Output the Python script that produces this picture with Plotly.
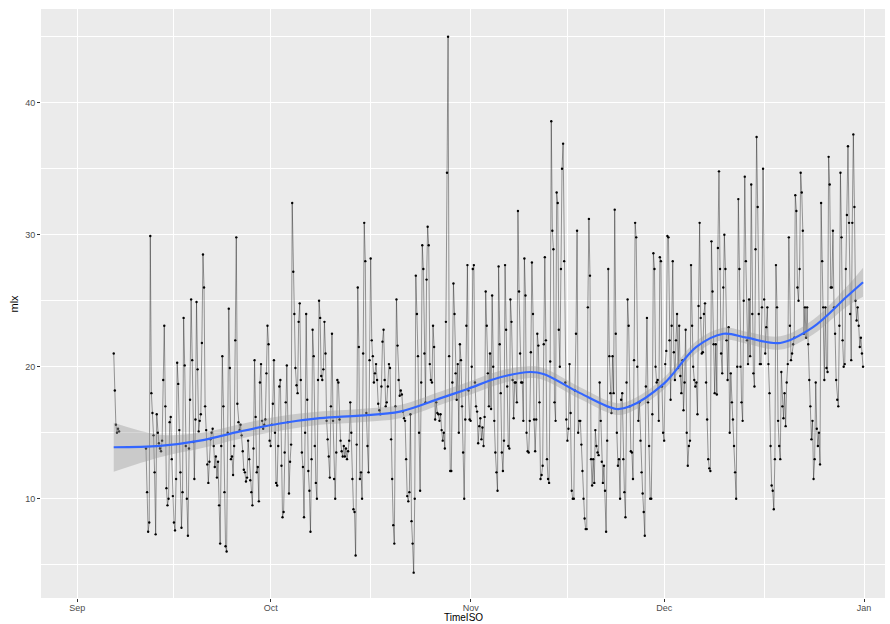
import pandas as pd
import plotly.graph_objects as go

# mlx readings, six per day (every 4 hours from 00:00), Sep 6 to Dec 31
first_day = "2016-09-06"
readings = [
    [None, None, None, None, 21.0, 18.2],   # Sep 6
    [15.6, 15.0, 15.3, 15.1, None, None],   # Sep 7
    [None, None, None, None, None, None],   # Sep 8
    [None, None, None, None, None, None],   # Sep 9
    [None, None, None, None, None, None],   # Sep 10
    [None, None, None, None, 13.8, 10.5],   # Sep 11
    [7.5, 8.2, 29.9, 18.0, 16.5, 14.8],
    [12.0, 7.3, 16.4, 15.0, 14.2, 13.8],
    [13.6, 14.4, 19.0, 23.1, 17.0, 10.8],
    [9.5, 10.0, 15.8, 16.2, 13.0, 10.2],    # Sep 15
    [8.2, 7.6, 11.5, 20.3, 18.7, 15.2],
    [12.0, 7.8, 10.5, 23.7, 20.1, 14.0],
    [10.0, 7.2, 13.8, 17.5, 25.1, 20.5],
    [14.3, 11.5, 16.0, 24.9, 19.8, 15.1],
    [15.9, 16.4, 21.8, 28.5, 26.0, 17.0],   # Sep 20
    [15.2, 12.6, 11.2, 12.8, 14.5, 15.0],
    [15.3, 14.0, 12.4, 13.2, 11.6, 12.8],
    [9.5, 6.6, 14.0, 20.8, 17.0, 10.5],
    [6.4, 6.0, 15.0, 24.4, 19.9, 13.0],
    [13.2, 11.8, 14.0, 22.0, 29.8, 17.2],   # Sep 25
    [15.8, 15.2, 15.6, 14.8, 13.6, 12.2],
    [12.0, 11.3, 11.6, 14.4, 13.0, 11.4],
    [10.5, 9.5, 13.8, 20.5, 16.2, 12.0],
    [12.4, 9.8, 18.8, 20.2, 15.9, 15.3],
    [15.6, 16.0, 19.5, 23.1, 21.7, 14.4],   # Sep 30
    [14.0, 15.6, 17.2, 20.5, 15.0, 11.2],   # Oct 1
    [11.0, 14.0, 18.5, 19.0, 12.5, 8.6],
    [9.0, 13.5, 17.3, 20.1, 15.8, 10.4],
    [12.8, 14.1, 32.4, 27.2, 24.0, 19.9],
    [18.6, 18.0, 23.4, 24.8, 19.0, 13.5],   # Oct 5
    [12.4, 8.6, 15.0, 24.0, 17.5, 12.1],
    [10.6, 7.5, 13.0, 22.8, 20.8, 14.0],
    [11.2, 10.0, 19.0, 25.0, 23.7, 19.3],
    [19.0, 19.8, 23.4, 21.0, 15.9, 14.5],
    [13.2, 11.6, 17.0, 22.5, 15.9, 11.5],   # Oct 10
    [10.0, 13.5, 19.0, 18.8, 16.0, 14.4],
    [13.6, 13.2, 14.0, 13.2, 13.8, 13.0],
    [13.6, 14.4, 17.3, 15.0, 11.5, 9.2],
    [9.0, 5.7, 14.1, 26.0, 21.5, 11.5],
    [12.0, 10.0, 21.0, 30.9, 28.0, 16.5],   # Oct 15
    [14.0, 12.0, 20.5, 28.2, 22.0, 20.8],
    [18.8, 19.5, 20.2, 19.0, 17.2, 16.7],
    [16.4, 18.5, 21.9, 22.8, 19.0, 17.0],
    [17.3, 18.5, 20.2, 19.9, 14.5, 11.5],
    [8.0, 6.6, 17.0, 25.1, 21.6, 19.0],     # Oct 20
    [17.8, 18.2, 17.9, 16.6, 16.1, 15.9],
    [13.0, 10.2, 9.8, 10.5, 16.4, 8.3],
    [6.6, 4.4, 10.0, 26.9, 24.0, 20.8],
    [15.0, 10.6, 18.8, 29.2, 27.4, 21.0],
    [17.3, 26.6, 30.6, 29.2, 20.2, 19.0],   # Oct 25
    [18.8, 23.1, 21.5, 16.0, 17.3, 16.5],
    [16.4, 15.9, 16.4, 15.2, 14.4, 15.0],
    [13.8, 23.4, 34.7, 45.0, 20.8, 12.1],
    [12.1, 18.8, 26.3, 24.0, 19.5, 17.5],
    [20.2, 15.0, 21.7, 20.5, 17.0, 13.5],   # Oct 30
    [10.0, 16.0, 23.1, 27.7, 18.2, 16.0],
    [15.9, 20.0, 27.4, 27.7, 18.8, 17.0],   # Nov 1
    [16.6, 14.2, 15.5, 16.1, 14.5, 15.4],
    [14.0, 16.2, 25.7, 23.1, 19.5, 17.0],
    [21.0, 16.8, 25.4, 20.0, 15.9, 13.5],
    [12.0, 10.6, 27.6, 21.7, 18.0, 13.5],   # Nov 5
    [12.1, 14.4, 27.7, 22.8, 18.5, 14.0],
    [13.8, 25.1, 23.4, 19.0, 16.1, 18.8],
    [18.8, 17.3, 31.8, 25.7, 21.0, 18.8],
    [18.8, 15.9, 28.2, 25.4, 15.0, 13.6],
    [13.5, 15.9, 21.1, 27.9, 24.0, 16.0],   # Nov 10
    [13.6, 16.0, 22.5, 21.6, 17.3, 11.5],
    [11.8, 12.5, 21.7, 28.3, 22.0, 13.0],
    [11.5, 11.2, 20.4, 38.6, 30.3, 28.9],
    [17.3, 15.9, 33.2, 32.4, 22.8, 20.0],
    [27.4, 35.0, 36.9, 28.0, 18.8, 16.0],   # Nov 15
    [14.4, 15.3, 20.2, 16.5, 10.6, 10.0],
    [10.0, 18.2, 22.5, 30.3, 15.0, 15.9],
    [15.9, 14.1, 12.1, 10.0, 8.5, 7.7],
    [7.7, 24.5, 31.2, 26.9, 13.0, 11.0],
    [13.0, 11.2, 15.2, 14.0, 13.5, 13.3],   # Nov 20
    [18.8, 15.9, 12.8, 11.2, 12.5, 10.6],
    [7.5, 14.4, 27.4, 20.8, 18.0, 16.5],
    [20.8, 18.0, 31.9, 22.5, 15.0, 12.5],
    [13.0, 10.0, 17.5, 18.0, 13.0, 10.5],
    [8.6, 18.8, 25.1, 23.1, 17.0, 13.6],    # Nov 25
    [13.5, 11.5, 20.5, 30.9, 29.8, 20.0],
    [15.9, 17.3, 14.4, 12.0, 10.4, 9.0],
    [7.2, 18.5, 23.7, 17.3, 14.0, 10.0],
    [10.0, 16.4, 28.6, 27.4, 20.0, 18.8],
    [19.0, 15.9, 28.3, 28.0, 18.5, 15.0],   # Nov 30
    [14.4, 20.2, 21.2, 29.9, 29.8, 22.0],   # Dec 1
    [17.5, 23.1, 28.0, 21.1, 19.0, 22.0],
    [24.0, 19.9, 23.1, 19.3, 18.0, 20.5],
    [16.7, 18.8, 22.8, 15.0, 12.5, 14.0],
    [14.4, 27.7, 23.1, 20.0, 19.0, 18.5],   # Dec 5
    [18.8, 16.4, 24.6, 30.9, 23.7, 21.0],
    [21.1, 24.0, 24.8, 18.8, 16.0, 13.0],
    [12.3, 12.1, 29.5, 25.7, 21.7, 18.0],
    [21.7, 17.9, 29.0, 34.8, 27.4, 21.0],
    [19.5, 26.0, 30.0, 27.4, 22.0, 19.0],   # Dec 10
    [23.0, 15.0, 19.5, 17.3, 16.0, 14.0],
    [12.0, 10.0, 20.0, 32.7, 27.4, 20.0],
    [17.3, 15.9, 25.0, 34.4, 28.0, 22.0],
    [20.2, 25.1, 20.8, 33.8, 24.0, 19.5],
    [18.5, 28.9, 37.4, 32.1, 24.0, 20.2],   # Dec 15
    [20.2, 24.5, 35.0, 25.1, 21.0, 23.0],
    [24.5, 20.2, 18.0, 14.0, 11.0, 10.6],
    [9.2, 13.0, 27.7, 24.5, 15.9, 14.0],
    [13.0, 19.6, 17.0, 16.1, 18.0, 15.5],
    [18.8, 20.2, 29.8, 23.1, 20.5, 21.0],   # Dec 20
    [21.7, 22.2, 33.0, 31.8, 26.0, 25.0],
    [27.4, 34.7, 33.2, 30.3, 22.5, 24.5],
    [22.2, 24.5, 21.7, 19.0, 17.0, 14.5],
    [15.9, 11.5, 13.0, 18.8, 15.3, 14.0],
    [15.0, 12.6, 32.4, 28.0, 24.5, 19.0],   # Dec 25
    [24.5, 19.9, 19.6, 35.9, 33.8, 26.0],
    [26.0, 30.3, 24.5, 22.5, 19.0, 17.5],
    [17.0, 23.1, 34.7, 29.8, 22.0, 20.0],
    [20.2, 27.4, 31.5, 36.7, 30.9, 24.0],
    [20.5, 30.9, 37.6, 32.1, 25.0, 23.5],   # Dec 30
    [24.5, 23.1, 21.5, 22.2, 21.0, 20.0],   # Dec 31
]

# smoothed trend (loess fit) and its standard-error half width
smooth_time = [
    "2016-09-06 16:00", "2016-09-13 20:00", "2016-09-20 01:00", "2016-09-26 06:00",
    "2016-10-02 10:00", "2016-10-08 15:00", "2016-10-14 20:00", "2016-10-21 01:00",
    "2016-10-27 06:00", "2016-10-31 10:00", "2016-11-05 14:00",
    "2016-11-10 05:00", "2016-11-12 07:00", "2016-11-17 23:00", "2016-11-23 14:00",
    "2016-11-25 17:00", "2016-11-30 22:00", "2016-12-06 00:00", "2016-12-10 05:00",
    "2016-12-13 19:00", "2016-12-19 00:00", "2016-12-24 02:00", "2016-12-29 07:00",
    "2016-12-31 20:00",
]
smooth_fit = [13.9, 14.0, 14.4, 15.1, 15.7, 16.1, 16.3, 16.6, 17.6, 18.3, 19.2,
              19.6, 19.45, 18.0, 16.8, 17.0, 18.7, 21.5, 22.5, 22.2, 21.8, 23.0, 25.3,
              26.4]
smooth_se = [1.85, 0.85, 0.6, 0.55, 0.55, 0.5, 0.5, 0.5, 0.5, 0.5, 0.5,
             0.45, 0.45, 0.45, 0.45, 0.45, 0.45, 0.45, 0.45, 0.45, 0.5, 0.55, 0.75,
             1.1]

month_ticks = ["2016-09-01", "2016-10-01", "2016-11-01", "2016-12-01", "2017-01-01"]
month_labels = ["Sep", "Oct", "Nov", "Dec", "Jan"]
mid_month_ticks = ["2016-09-16 00:00", "2016-10-16 12:00", "2016-11-16 00:00", "2016-12-16 12:00"]
y_ticks = [10, 20, 30, 40]
y_minor = [5, 15, 25, 35, 45]

# flatten day rows into a timestamped series
start = pd.Timestamp(first_day)
times, values = [], []
for i, day in enumerate(readings):
    for k, v in enumerate(day):
        times.append(start + pd.Timedelta(days=i, hours=4 * k))
        values.append(v)

upper = [f + s for f, s in zip(smooth_fit, smooth_se)]
lower = [f - s for f, s in zip(smooth_fit, smooth_se)]

fig = go.Figure()
fig.add_trace(go.Scatter(
    x=times, y=values, mode="lines+markers",
    line=dict(color="rgba(0,0,0,0.55)", width=0.7),
    marker=dict(color="black", size=2.4),
    connectgaps=False, hoverinfo="skip", showlegend=False,
))
fig.add_trace(go.Scatter(
    x=smooth_time, y=upper, mode="lines", line=dict(width=0, shape="spline"),
    hoverinfo="skip", showlegend=False,
))
fig.add_trace(go.Scatter(
    x=smooth_time, y=lower, mode="lines", line=dict(width=0, shape="spline"),
    fill="tonexty", fillcolor="rgba(153,153,153,0.4)",
    hoverinfo="skip", showlegend=False,
))
fig.add_trace(go.Scatter(
    x=smooth_time, y=smooth_fit, mode="lines",
    line=dict(color="#3366FF", width=2.2, shape="spline"),
    hoverinfo="skip", showlegend=False,
))

font = "Liberation Sans, Arial, Helvetica, sans-serif"
panel_h = 624 - 9 - 26
fig.update_layout(
    width=890, height=624,
    margin=dict(l=41, r=5, t=9, b=26, autoexpand=False),
    paper_bgcolor="white", plot_bgcolor="#EBEBEB",
    font=dict(family=font, color="#4D4D4D", size=9),
    xaxis=dict(
        type="date", range=["2016-08-26 09:20", "2017-01-04 05:45"],
        tickmode="array", tickvals=month_ticks, ticktext=month_labels,
        ticks="outside", ticklen=3, tickwidth=1, tickcolor="#333333",
        ticklabelstandoff=-2,
        showgrid=True, gridcolor="white", gridwidth=1.1,
        minor=dict(tickmode="array", tickvals=mid_month_ticks, showgrid=True,
                   gridcolor="white", gridwidth=0.55, ticks=""),
        zeroline=False, showline=False, automargin=False,
        tickfont=dict(size=9, color="#4D4D4D"),
    ),
    yaxis=dict(
        range=[2.48, 47.1],
        tickmode="array", tickvals=y_ticks,
        ticks="outside", ticklen=3, tickwidth=1, tickcolor="#333333",
        showgrid=True, gridcolor="white", gridwidth=1.1,
        minor=dict(tickmode="array", tickvals=y_minor, showgrid=True,
                   gridcolor="white", gridwidth=0.55, ticks=""),
        zeroline=False, showline=False, automargin=False,
        tickfont=dict(size=9, color="#4D4D4D"),
    ),
    annotations=[
        dict(text="TimeISO", xref="paper", yref="paper", x=0.5,
             y=-(624 - 598) / panel_h, xanchor="center", yanchor="bottom",
             showarrow=False, borderpad=0, font=dict(size=10, color="black")),
        dict(text="mlx", xref="paper", yref="paper", x=-(41 - 13) / 844,
             y=0.5, xanchor="center", yanchor="middle", textangle=-90,
             showarrow=False, font=dict(size=11, color="black")),
    ],
)

fig.write_html("out.html", config={"displayModeBar": False})
